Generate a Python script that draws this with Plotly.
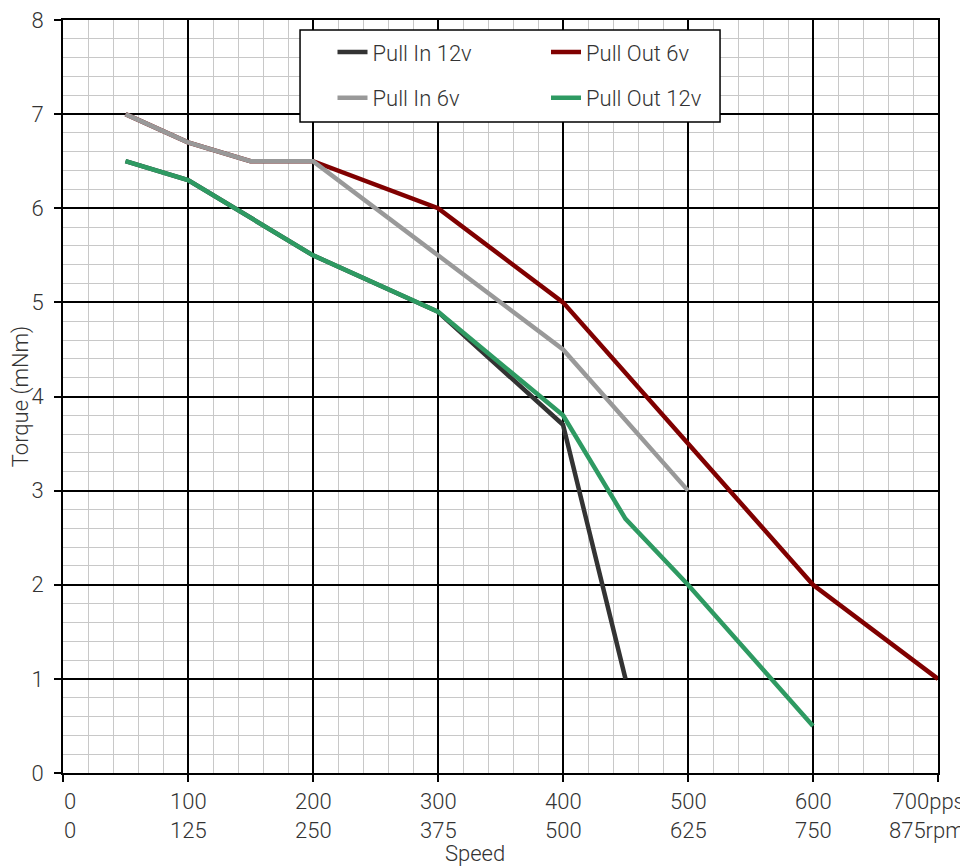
import plotly.graph_objects as go

# ── Data ─────────────────────────────────────────────────────────────────────
pull_in_12v_x = [50, 100, 200, 300, 400, 450]
pull_in_12v_y = [6.5, 6.3, 5.5, 4.9, 3.7, 1.0]

pull_out_6v_x = [50, 100, 150, 200, 300, 400, 500, 600, 700]
pull_out_6v_y = [7.0, 6.7, 6.5, 6.5, 6.0, 5.0, 3.5, 2.0, 1.0]

pull_in_6v_x = [50, 100, 150, 200, 300, 400, 500]
pull_in_6v_y = [7.0, 6.7, 6.5, 6.5, 5.5, 4.5, 3.0]

pull_out_12v_x = [50, 100, 150, 200, 300, 400, 450, 500, 600]
pull_out_12v_y = [6.5, 6.3, 5.9, 5.5, 4.9, 3.8, 2.7, 2.0, 0.5]

tick_pps = [0, 100, 200, 300, 400, 500, 600, 700]
tick_pps_text = ["0", "100", "200", "300", "400", "500", "600", "700pps"]
tick_rpm_text = ["0", "125", "250", "375", "500", "625", "750", "875rpm"]

FONT = dict(family="Roboto, Liberation Sans, sans-serif", size=22, color="#333333", weight=300)

# name, x, y, colour, legend column
series = [
    ("Pull In 12v", pull_in_12v_x, pull_in_12v_y, "#333333", "legend"),
    ("Pull Out 6v", pull_out_6v_x, pull_out_6v_y, "#800000", "legend2"),
    ("Pull In 6v", pull_in_6v_x, pull_in_6v_y, "#999999", "legend"),
    ("Pull Out 12v", pull_out_12v_x, pull_out_12v_y, "#2E9A62", "legend2"),
]

fig = go.Figure()
for name, xs, ys, color, leg in series:
    fig.add_trace(go.Scatter(
        x=xs, y=ys, name=name, mode="lines", legend=leg, legendgroup=name,
        line=dict(color=color, width=4.5),
    ))

# ── X tick labels (two rows: pps / rpm) ─────────────────────────────────────
annotations = []
last = len(tick_pps) - 1
for i, (v, a, b) in enumerate(zip(tick_pps, tick_pps_text, tick_rpm_text)):
    if i == 0:
        anchor, align, shift = "left", "left", -1
    elif i == last:
        anchor, align, shift = "right", "right", 29
    else:
        anchor, align, shift = "center", "center", 0
    annotations.append(dict(
        text=f"{a}<br>{b}", x=v, xref="x", y=0, yref="paper",
        xanchor=anchor, yanchor="top", align=align,
        xshift=shift, yshift=-14, showarrow=False, font=FONT,
    ))

annotations.append(dict(
    text="Speed", x=0.471, xref="paper", y=0, yref="paper",
    xanchor="center", yanchor="top", yshift=-66, showarrow=False, font=FONT,
))

leg_style = dict(
    orientation="v", xanchor="left", yanchor="top", y=0.985,
    bgcolor="rgba(0,0,0,0)", borderwidth=0, tracegroupgap=14, font=FONT,
)

fig.update_layout(
    width=960, height=859,
    margin=dict(l=55, r=30, t=12, b=94),
    paper_bgcolor="white", plot_bgcolor="white",
    font=FONT,
    showlegend=True,
    legend=dict(x=0.308, **leg_style),
    legend2=dict(x=0.552, **leg_style),
    annotations=annotations,
    shapes=[dict(
        type="rect", xref="paper", yref="paper",
        x0=0.2709, x1=0.7509, y0=0.8645, y1=0.9867,
        fillcolor="white", line=dict(color="black", width=1.5), layer="above",
    )],
)

fig.update_xaxes(
    range=[0, 700], tickvals=tick_pps, showticklabels=False,
    ticks="outside", ticklen=7, tickwidth=2, tickcolor="black",
    showline=True, linecolor="black", linewidth=2, mirror=True,
    showgrid=True, gridcolor="black", gridwidth=1.6,
    minor=dict(dtick=20, showgrid=True, gridcolor="#c8c8c8", gridwidth=1.3),
    zeroline=False, automargin=False,
)
fig.update_yaxes(
    range=[0, 8], dtick=1, tick0=0,
    ticks="outside", ticklen=7, tickwidth=2, tickcolor="black",
    ticklabelstandoff=6, ticklabeloverflow="allow",
    showline=True, linecolor="black", linewidth=2, mirror=True,
    showgrid=True, gridcolor="black", gridwidth=1.6,
    minor=dict(dtick=0.2, showgrid=True, gridcolor="#c8c8c8", gridwidth=1.3),
    zeroline=False, automargin=False,
    title=dict(text="Torque (mNm)", standoff=8, font=FONT),
)

fig.write_html("out.html")
